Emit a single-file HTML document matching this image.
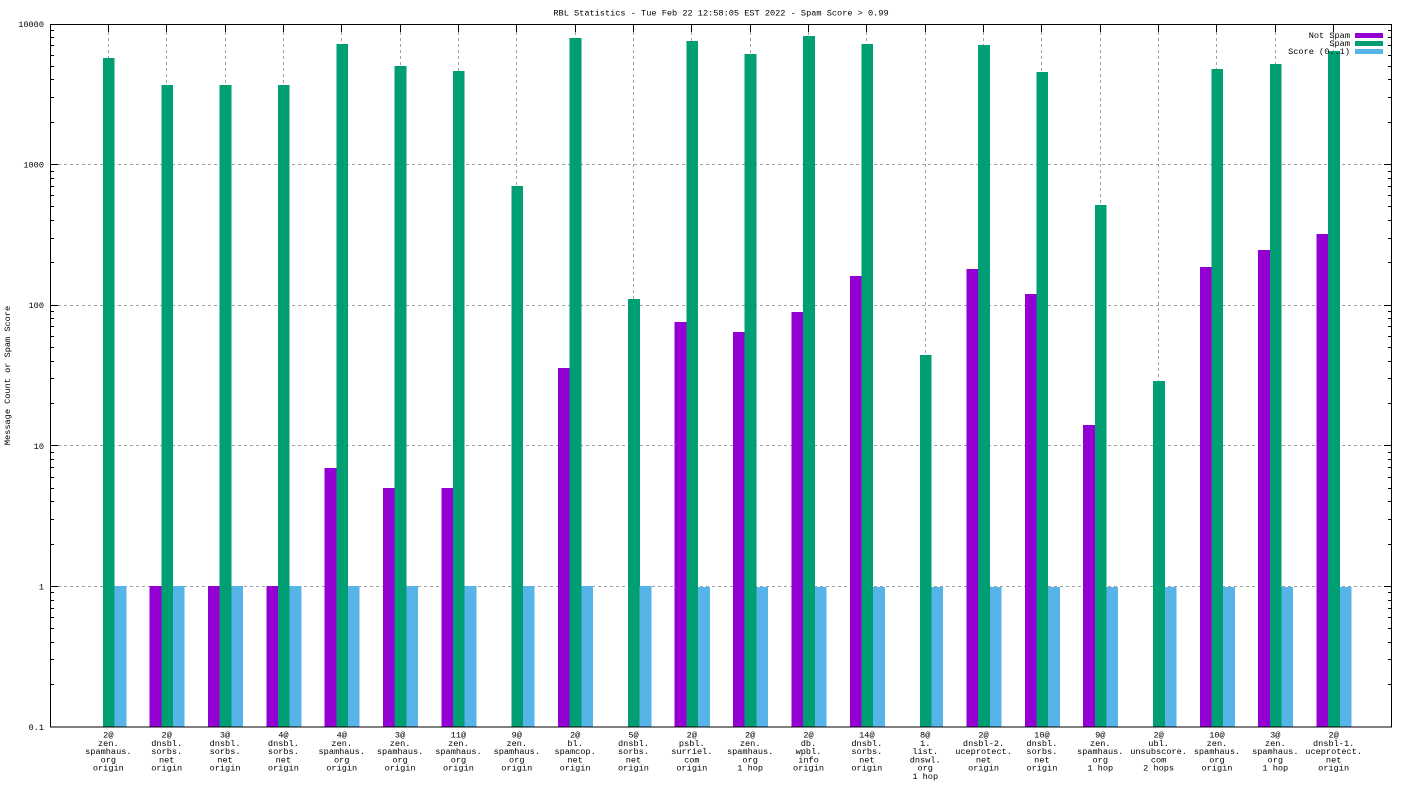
<!DOCTYPE html>
<html><head><meta charset="utf-8"><style>
html,body{margin:0;padding:0;background:#fff;}
svg{display:block;}
text{font-family:"Liberation Mono","DejaVu Sans Mono",monospace;font-size:8.6px;fill:#000;}
</style></head><body>
<svg width="1408" height="792" viewBox="0 0 1408 792" xmlns="http://www.w3.org/2000/svg">
<rect x="0" y="0" width="1408" height="792" fill="#fff"/>
<!-- grid -->
<g stroke="#a0a0a0" stroke-width="1" stroke-dasharray="3,3" shape-rendering="crispEdges" fill="none">
<path d="M58 164.5H1384M58 305.5H1384M58 445.5H1384M58 586.5H1384"/>
<path d="M108.5 32V719M166.5 32V719M225.5 32V719M283.5 32V719M341.5 32V719M400.5 32V719M458.5 32V719M516.5 32V719M575.5 32V719M633.5 32V719M691.5 32V719M750.5 32V719M808.5 32V719M866.5 32V719M925.5 32V719M983.5 32V719M1041.5 32V719M1100.5 32V719M1158.5 32V719M1216.5 32V719M1275.5 32V719M1333.5 32V719"/>
</g>
<!-- Not Spam bars -->
<g fill="#9400d3" shape-rendering="crispEdges">
<rect x="149.6" y="586" width="11.7" height="141"/>
<rect x="207.94" y="586" width="11.7" height="141"/>
<rect x="266.29" y="586" width="11.7" height="141"/>
<rect x="324.64" y="468" width="11.7" height="259"/>
<rect x="382.99" y="488" width="11.7" height="239"/>
<rect x="441.34" y="488" width="11.7" height="239"/>
<rect x="558.03" y="368" width="11.7" height="359"/>
<rect x="674.73" y="322" width="11.7" height="405"/>
<rect x="733.07" y="332" width="11.7" height="395"/>
<rect x="791.42" y="312" width="11.7" height="415"/>
<rect x="849.77" y="276" width="11.7" height="451"/>
<rect x="966.47" y="269" width="11.7" height="458"/>
<rect x="1024.81" y="294" width="11.7" height="433"/>
<rect x="1083.16" y="425" width="11.7" height="302"/>
<rect x="1199.86" y="267" width="11.7" height="460"/>
<rect x="1258.2" y="250" width="11.7" height="477"/>
<rect x="1316.55" y="234" width="11.7" height="493"/>
</g>
<!-- Spam bars -->
<g fill="#009e73" shape-rendering="crispEdges">
<rect x="102.92" y="58" width="11.7" height="669"/>
<rect x="161.27" y="85" width="11.7" height="642"/>
<rect x="219.61" y="85" width="11.7" height="642"/>
<rect x="277.96" y="85" width="11.7" height="642"/>
<rect x="336.31" y="44" width="11.7" height="683"/>
<rect x="394.66" y="66" width="11.7" height="661"/>
<rect x="453.01" y="71" width="11.7" height="656"/>
<rect x="511.35" y="186" width="11.7" height="541"/>
<rect x="569.7" y="38" width="11.7" height="689"/>
<rect x="628.05" y="299" width="11.7" height="428"/>
<rect x="686.4" y="41" width="11.7" height="686"/>
<rect x="744.74" y="54" width="11.7" height="673"/>
<rect x="803.09" y="36" width="11.7" height="691"/>
<rect x="861.44" y="44" width="11.7" height="683"/>
<rect x="919.79" y="355" width="11.7" height="372"/>
<rect x="978.14" y="45" width="11.7" height="682"/>
<rect x="1036.48" y="72" width="11.7" height="655"/>
<rect x="1094.83" y="205" width="11.7" height="522"/>
<rect x="1153.18" y="381" width="11.7" height="346"/>
<rect x="1211.53" y="69" width="11.7" height="658"/>
<rect x="1269.87" y="64" width="11.7" height="663"/>
<rect x="1328.22" y="51" width="11.7" height="676"/>
</g>
<!-- Score bars -->
<g fill="#56b4e9" shape-rendering="crispEdges">
<rect x="114.58" y="586" width="11.7" height="141"/>
<rect x="172.93" y="586" width="11.7" height="141"/>
<rect x="231.27" y="586" width="11.7" height="141"/>
<rect x="289.62" y="586" width="11.7" height="141"/>
<rect x="347.97" y="586" width="11.7" height="141"/>
<rect x="406.32" y="586" width="11.7" height="141"/>
<rect x="464.67" y="586" width="11.7" height="141"/>
<rect x="523.01" y="586" width="11.7" height="141"/>
<rect x="581.36" y="586" width="11.7" height="141"/>
<rect x="639.71" y="586" width="11.7" height="141"/>
<rect x="698.06" y="587" width="11.7" height="140"/>
<rect x="756.4" y="587" width="11.7" height="140"/>
<rect x="814.75" y="587" width="11.7" height="140"/>
<rect x="873.1" y="587" width="11.7" height="140"/>
<rect x="931.45" y="587" width="11.7" height="140"/>
<rect x="989.8" y="587" width="11.7" height="140"/>
<rect x="1048.14" y="587" width="11.7" height="140"/>
<rect x="1106.49" y="587" width="11.7" height="140"/>
<rect x="1164.84" y="587" width="11.7" height="140"/>
<rect x="1223.19" y="587" width="11.7" height="140"/>
<rect x="1281.53" y="587" width="11.7" height="140"/>
<rect x="1339.88" y="587" width="11.7" height="140"/>
</g>
<!-- border and ticks -->
<g stroke="#000" stroke-width="1" fill="none" shape-rendering="crispEdges">
<rect x="50.5" y="24.5" width="1341" height="702.5"/>
<!-- major y ticks -->
<path d="M50 164.5h8M50 305.5h8M50 445.5h8M50 586.5h8M1392 164.5h-8M1392 305.5h-8M1392 445.5h-8M1392 586.5h-8"/>
<!-- minor y ticks -->
<path d="M50 684.5h4M50 659.5h4M50 642.5h4M50 628.5h4M50 617.5h4M50 608.5h4M50 600.5h4M50 592.5h4
M50 544.5h4M50 519.5h4M50 501.5h4M50 488.5h4M50 477.5h4M50 467.5h4M50 459.5h4M50 452.5h4
M50 403.5h4M50 378.5h4M50 361.5h4M50 347.5h4M50 336.5h4M50 326.5h4M50 318.5h4M50 311.5h4
M50 262.5h4M50 238.5h4M50 220.5h4M50 206.5h4M50 195.5h4M50 186.5h4M50 178.5h4M50 171.5h4
M50 122.5h4M50 97.5h4M50 79.5h4M50 66.5h4M50 55.5h4M50 45.5h4M50 37.5h4M50 30.5h4
M1392 684.5h-4M1392 659.5h-4M1392 642.5h-4M1392 628.5h-4M1392 617.5h-4M1392 608.5h-4M1392 600.5h-4M1392 592.5h-4
M1392 544.5h-4M1392 519.5h-4M1392 501.5h-4M1392 488.5h-4M1392 477.5h-4M1392 467.5h-4M1392 459.5h-4M1392 452.5h-4
M1392 403.5h-4M1392 378.5h-4M1392 361.5h-4M1392 347.5h-4M1392 336.5h-4M1392 326.5h-4M1392 318.5h-4M1392 311.5h-4
M1392 262.5h-4M1392 238.5h-4M1392 220.5h-4M1392 206.5h-4M1392 195.5h-4M1392 186.5h-4M1392 178.5h-4M1392 171.5h-4
M1392 122.5h-4M1392 97.5h-4M1392 79.5h-4M1392 66.5h-4M1392 55.5h-4M1392 45.5h-4M1392 37.5h-4M1392 30.5h-4"/>
<!-- x ticks top -->
<path d="M108.5 24v8M166.5 24v8M225.5 24v8M283.5 24v8M341.5 24v8M400.5 24v8M458.5 24v8M516.5 24v8M575.5 24v8M633.5 24v8M691.5 24v8M750.5 24v8M808.5 24v8M866.5 24v8M925.5 24v8M983.5 24v8M1041.5 24v8M1100.5 24v8M1158.5 24v8M1216.5 24v8M1275.5 24v8M1333.5 24v8"/>
</g>
<!-- title -->
<text x="721" y="15.5" text-anchor="middle">RBL Statistics - Tue Feb 22 12:58:05 EST 2022 - Spam Score &gt; 0.99</text>
<!-- y tick labels -->
<g text-anchor="end">
<text x="44" y="27">10000</text>
<text x="44" y="167.6">1000</text>
<text x="44" y="308.2">100</text>
<text x="44" y="448.8">10</text>
<text x="44" y="589.4">1</text>
<text x="44" y="730">0.1</text>
</g>
<!-- y axis label -->
<text transform="translate(10,375.5) rotate(-90)" text-anchor="middle">Message Count or Spam Score</text>
<!-- x labels -->
<g text-anchor="middle">
<text x="108.35" y="737.5">2@</text><text x="108.35" y="745.8">zen.</text><text x="108.35" y="754.1">spamhaus.</text><text x="108.35" y="762.4">org</text><text x="108.35" y="770.7">origin</text>
<text x="166.7" y="737.5">2@</text><text x="166.7" y="745.8">dnsbl.</text><text x="166.7" y="754.1">sorbs.</text><text x="166.7" y="762.4">net</text><text x="166.7" y="770.7">origin</text>
<text x="225.04" y="737.5">3@</text><text x="225.04" y="745.8">dnsbl.</text><text x="225.04" y="754.1">sorbs.</text><text x="225.04" y="762.4">net</text><text x="225.04" y="770.7">origin</text>
<text x="283.39" y="737.5">4@</text><text x="283.39" y="745.8">dnsbl.</text><text x="283.39" y="754.1">sorbs.</text><text x="283.39" y="762.4">net</text><text x="283.39" y="770.7">origin</text>
<text x="341.74" y="737.5">4@</text><text x="341.74" y="745.8">zen.</text><text x="341.74" y="754.1">spamhaus.</text><text x="341.74" y="762.4">org</text><text x="341.74" y="770.7">origin</text>
<text x="400.09" y="737.5">3@</text><text x="400.09" y="745.8">zen.</text><text x="400.09" y="754.1">spamhaus.</text><text x="400.09" y="762.4">org</text><text x="400.09" y="770.7">origin</text>
<text x="458.44" y="737.5">11@</text><text x="458.44" y="745.8">zen.</text><text x="458.44" y="754.1">spamhaus.</text><text x="458.44" y="762.4">org</text><text x="458.44" y="770.7">origin</text>
<text x="516.78" y="737.5">9@</text><text x="516.78" y="745.8">zen.</text><text x="516.78" y="754.1">spamhaus.</text><text x="516.78" y="762.4">org</text><text x="516.78" y="770.7">origin</text>
<text x="575.13" y="737.5">2@</text><text x="575.13" y="745.8">bl.</text><text x="575.13" y="754.1">spamcop.</text><text x="575.13" y="762.4">net</text><text x="575.13" y="770.7">origin</text>
<text x="633.48" y="737.5">5@</text><text x="633.48" y="745.8">dnsbl.</text><text x="633.48" y="754.1">sorbs.</text><text x="633.48" y="762.4">net</text><text x="633.48" y="770.7">origin</text>
<text x="691.83" y="737.5">2@</text><text x="691.83" y="745.8">psbl.</text><text x="691.83" y="754.1">surriel.</text><text x="691.83" y="762.4">com</text><text x="691.83" y="770.7">origin</text>
<text x="750.17" y="737.5">2@</text><text x="750.17" y="745.8">zen.</text><text x="750.17" y="754.1">spamhaus.</text><text x="750.17" y="762.4">org</text><text x="750.17" y="770.7">1 hop</text>
<text x="808.52" y="737.5">2@</text><text x="808.52" y="745.8">db.</text><text x="808.52" y="754.1">wpbl.</text><text x="808.52" y="762.4">info</text><text x="808.52" y="770.7">origin</text>
<text x="866.87" y="737.5">14@</text><text x="866.87" y="745.8">dnsbl.</text><text x="866.87" y="754.1">sorbs.</text><text x="866.87" y="762.4">net</text><text x="866.87" y="770.7">origin</text>
<text x="925.22" y="737.5">8@</text><text x="925.22" y="745.8">1.</text><text x="925.22" y="754.1">list.</text><text x="925.22" y="762.4">dnswl.</text><text x="925.22" y="770.7">org</text><text x="925.22" y="779">1 hop</text>
<text x="983.57" y="737.5">2@</text><text x="983.57" y="745.8">dnsbl-2.</text><text x="983.57" y="754.1">uceprotect.</text><text x="983.57" y="762.4">net</text><text x="983.57" y="770.7">origin</text>
<text x="1041.91" y="737.5">10@</text><text x="1041.91" y="745.8">dnsbl.</text><text x="1041.91" y="754.1">sorbs.</text><text x="1041.91" y="762.4">net</text><text x="1041.91" y="770.7">origin</text>
<text x="1100.26" y="737.5">9@</text><text x="1100.26" y="745.8">zen.</text><text x="1100.26" y="754.1">spamhaus.</text><text x="1100.26" y="762.4">org</text><text x="1100.26" y="770.7">1 hop</text>
<text x="1158.61" y="737.5">2@</text><text x="1158.61" y="745.8">ubl.</text><text x="1158.61" y="754.1">unsubscore.</text><text x="1158.61" y="762.4">com</text><text x="1158.61" y="770.7">2 hops</text>
<text x="1216.96" y="737.5">10@</text><text x="1216.96" y="745.8">zen.</text><text x="1216.96" y="754.1">spamhaus.</text><text x="1216.96" y="762.4">org</text><text x="1216.96" y="770.7">origin</text>
<text x="1275.3" y="737.5">3@</text><text x="1275.3" y="745.8">zen.</text><text x="1275.3" y="754.1">spamhaus.</text><text x="1275.3" y="762.4">org</text><text x="1275.3" y="770.7">1 hop</text>
<text x="1333.65" y="737.5">2@</text><text x="1333.65" y="745.8">dnsbl-1.</text><text x="1333.65" y="754.1">uceprotect.</text><text x="1333.65" y="762.4">net</text><text x="1333.65" y="770.7">origin</text>
</g>
<!-- legend -->
<g text-anchor="end">
<text x="1350" y="38">Not Spam</text>
<text x="1350" y="46">Spam</text>
<text x="1350" y="54">Score (0..1)</text>
</g>
<g shape-rendering="crispEdges">
<rect x="1355" y="33" width="28" height="5" fill="#9400d3"/>
<rect x="1355" y="41" width="28" height="5" fill="#009e73"/>
<rect x="1355" y="49" width="28" height="5" fill="#56b4e9"/>
</g>
</svg>
</body></html>
